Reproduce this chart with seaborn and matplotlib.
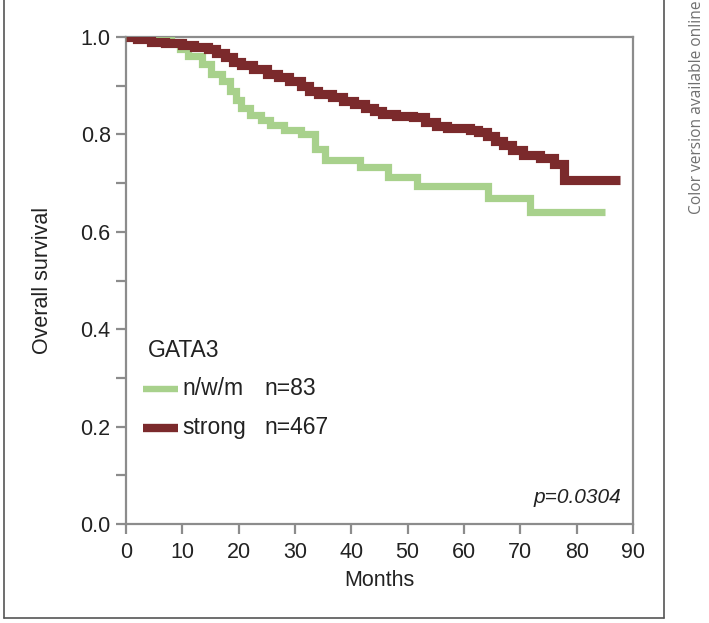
import matplotlib
matplotlib.use("Agg")
import matplotlib.pyplot as plt
import seaborn as sns
import pandas as pd
from matplotlib.lines import Line2D

# Kaplan-Meier step points (months, survival)
weak_months = [0, 8, 9.5, 11, 13.5, 15, 17, 18.5, 19.5, 20.5, 22, 24, 25.5, 28, 31,
               33.5, 35.3, 41.5, 46.5, 51.6, 64.3, 71.7, 85]
weak_surv = [1.0, 0.99, 0.975, 0.96, 0.945, 0.925, 0.91, 0.89, 0.87, 0.855, 0.84, 0.83,
             0.82, 0.81, 0.80, 0.77, 0.748, 0.734, 0.712, 0.694, 0.669, 0.64, 0.64]

strong_months = [0, 2, 4.5, 7, 10, 12, 14.5, 16, 17.5, 19, 20.5, 22.5, 25, 27, 29, 31,
                 32.5, 34, 36.5, 38.5, 40.5, 42.5, 44, 45.5, 48, 51, 53, 55, 57, 61,
                 62.5, 64, 65.5, 67, 68.5, 70.5, 73.5, 76, 77.8, 87.7]
strong_surv = [1.0, 0.995, 0.99, 0.987, 0.983, 0.98, 0.975, 0.967, 0.958, 0.948, 0.942,
               0.935, 0.925, 0.917, 0.91, 0.90, 0.89, 0.882, 0.877, 0.868, 0.862, 0.855,
               0.848, 0.842, 0.838, 0.835, 0.826, 0.818, 0.814, 0.81, 0.805, 0.797,
               0.787, 0.778, 0.768, 0.758, 0.752, 0.74, 0.706, 0.706]

groups = ["n/w/m", "strong"]
group_n = ["n=83", "n=467"]
colors = ["#A8D18C", "#7B2A2C"]
widths = [5.2, 6.6]
p_text = "p=0.0304"

sns.set_theme(style="white")
plt.rcParams["font.family"] = ["Liberation Sans", "DejaVu Sans"]

fig = plt.figure(figsize=(7.09, 6.23), dpi=100)
ax = fig.add_axes([126 / 709, 1 - 524 / 623, (633 - 126) / 709, (524 - 37) / 623])

df_weak = pd.DataFrame({"Months": weak_months, "Survival": weak_surv})
df_strong = pd.DataFrame({"Months": strong_months, "Survival": strong_surv})

for d, c, w in [(df_weak, colors[0], widths[0]), (df_strong, colors[1], widths[1])]:
    sns.lineplot(data=d, x="Months", y="Survival", ax=ax, color=c, linewidth=w,
                 estimator=None, sort=False, drawstyle="steps-post",
                 solid_joinstyle="miter", solid_capstyle="butt", zorder=3)

ax.set_xlim(0, 90)
ax.set_ylim(0, 1.0)
ax.set_xticks(range(0, 91, 10))
ax.set_yticks([0.0, 0.2, 0.4, 0.6, 0.8, 1.0])
ax.set_yticks([0.1, 0.3, 0.5, 0.7, 0.9], minor=True)
ax.set_yticklabels(["0.0", "0.2", "0.4", "0.6", "0.8", "1.0"])

spine_col = "#8c8c8c"
txt_col = "#222222"
for s in ax.spines.values():
    s.set_color(spine_col)
    s.set_linewidth(1.6)
    s.set_visible(True)
ax.tick_params(axis="both", which="both", direction="out", length=7, width=1.6,
               color=spine_col, labelsize=15.5, labelcolor=txt_col, pad=4)
ax.tick_params(axis="x", which="both", bottom=True, pad=6)
ax.tick_params(axis="y", which="both", left=True)

ax.set_xlabel("Months", fontsize=15.5, color=txt_col, labelpad=5)
ax.set_ylabel("Overall survival", fontsize=15.5, color=txt_col, labelpad=20)

# legend drawn by hand in axes coordinates
tr = ax.transAxes
ax.text(0.043, 0.357, "GATA3", transform=tr, fontsize=16.5, color=txt_col, va="center")
for i, (g, n) in enumerate(zip(groups, group_n)):
    yy = 0.278 - i * 0.08
    ax.add_line(Line2D([0.033, 0.103], [yy, yy], transform=tr, color=colors[i],
                       linewidth=widths[i] - 0.6, solid_capstyle="butt"))
    ax.text(0.112, yy, g, transform=tr, fontsize=16.5, color=txt_col, va="center")
    ax.text(0.274, yy, n, transform=tr, fontsize=16.5, color=txt_col, va="center")

ax.text(0.977, 0.055, p_text, transform=tr, fontsize=15, style="italic",
        color=txt_col, ha="right", va="center")

# outer frame and side note
fc = "#555555"
fig.add_artist(Line2D([4 / 709, 4 / 709], [1, 1 - 618 / 623], color=fc, lw=1.2))
fig.add_artist(Line2D([4 / 709, 664 / 709], [1 - 618 / 623, 1 - 618 / 623], color=fc, lw=1.2))
fig.add_artist(Line2D([664 / 709, 664 / 709], [1, 1 - 618 / 623], color=fc, lw=1.2))
fig.text(697 / 709, 1 - 214 / 623, "Color version available online", rotation=90,
         ha="center", va="bottom", fontsize=11.2, color="#707070",
         family=["Open Sans", "DejaVu Sans"])

fig.savefig("out.png", dpi=100)
